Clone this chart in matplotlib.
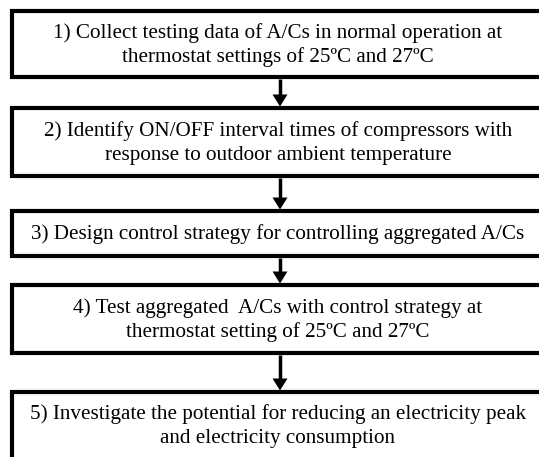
import matplotlib.pyplot as plt
import matplotlib.patches as patches

# flowchart steps
steps = [
    "1) Collect testing data of A/Cs in normal operation at\nthermostat settings of 25\u00baC and 27\u00baC",
    "2) Identify ON/OFF interval times of compressors with\nresponse to outdoor ambient temperature",
    "3) Design control strategy for controlling aggregated A/Cs",
    "4) Test aggregated  A/Cs with control strategy at\nthermostat setting of 25\u00baC and 27\u00baC",
    "5) Investigate the potential for reducing an electricity peak\nand electricity consumption",
]

# layout (pixel coords, y downwards)
box_tops = [11, 108, 211, 285, 392]
box_bottoms = [77, 176, 256, 353, 470]
box_left, box_right = 12, 548
text_x = 278
arrow_x = 280

W, H = 539, 457
fig = plt.figure(figsize=(W / 100, H / 100), dpi=100)
ax = fig.add_axes([0, 0, 1, 1])
ax.set_xlim(0, W)
ax.set_ylim(H, 0)
ax.axis('off')

for i, label in enumerate(steps):
    top, bot = box_tops[i], box_bottoms[i]
    rect = patches.Rectangle((box_left, top), box_right - box_left, bot - top,
                             facecolor='white', edgecolor='black', linewidth=3,
                             joinstyle='miter')
    ax.add_patch(rect)
    cy = (top + bot) / 2 + 1
    if i == len(steps) - 1:
        cy = 426
    ax.text(text_x, cy, label, ha='center', va='center', fontsize=15.2,
            family='Liberation Serif', linespacing=1.32, color='black')

    if i < len(steps) - 1:
        y0 = bot + 1.5
        y1 = box_tops[i + 1] - 1.5
        ax.plot([arrow_x, arrow_x], [y0, y1 - 10], color='black', linewidth=2.5,
                solid_capstyle='butt')
        head = patches.Polygon([[arrow_x - 7.5, y1 - 12], [arrow_x + 7.5, y1 - 12], [arrow_x, y1]],
                               closed=True, facecolor='black', edgecolor='none')
        ax.add_patch(head)

fig.savefig('out.png', dpi=100)
